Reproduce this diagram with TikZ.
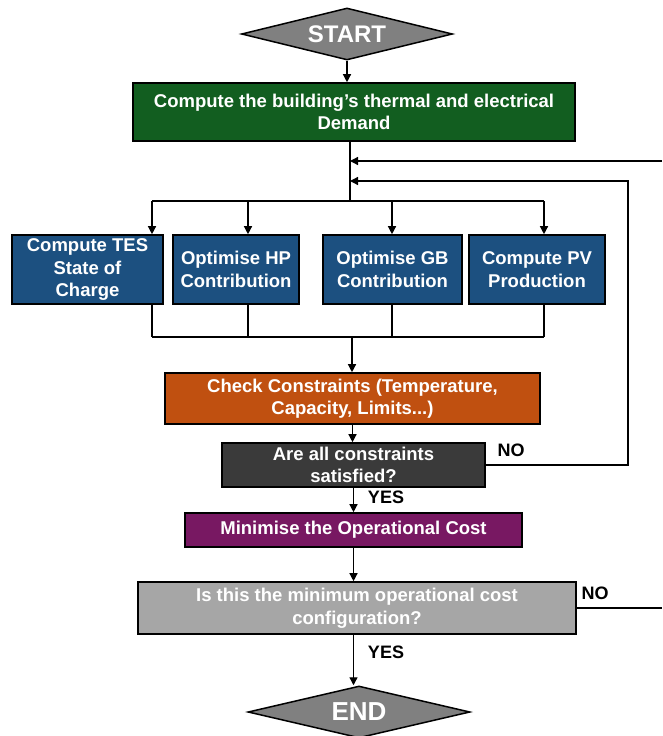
\documentclass[tikz,border=0pt]{standalone}
\usepackage{fontspec}
\setmainfont{Liberation Sans}
\usepackage{xcolor}
\usetikzlibrary{arrows.meta,shapes.geometric}

\definecolor{startgray}{RGB}{128,128,128}
\definecolor{demandgreen}{RGB}{18,94,32}
\definecolor{taskblue}{RGB}{28,80,128}
\definecolor{checkorange}{RGB}{192,80,16}
\definecolor{satgray}{RGB}{58,58,58}
\definecolor{costpurple}{RGB}{120,24,98}
\definecolor{bestgray}{RGB}{166,166,166}

\begin{document}
\begin{tikzpicture}[
  x=1pt, y=-1pt,
  font=\bfseries\fontsize{18.5}{22.5}\selectfont,
  terminal/.style={diamond, draw, line width=1.5pt, fill=startgray, text=white,
                   shape aspect=4, inner sep=0pt, font=\bfseries\fontsize{24}{26}\selectfont},
  procbox/.style={rectangle, draw, line width=1.6pt, text=white, align=center, inner sep=2pt},
  flow/.style={-{Triangle[width=8pt,length=8pt]}, line width=1.3pt},
  link/.style={line width=1.3pt},
  answer/.style={font=\bfseries\fontsize{18}{20}\selectfont},
]
\useasboundingbox (0,0) rectangle (662,736);

% Start and demand calculation
\node[terminal, minimum width=211pt, minimum height=52pt] (start) at (347,34) {START};
\node[procbox, fill=demandgreen, minimum width=442pt, minimum height=58pt] (demand) at (354,112)
  {Compute the building's thermal and electrical\\Demand};

% Four parallel sub-models
\node[procbox, fill=taskblue, minimum width=151pt, minimum height=69pt] (tes) at (87.5,269.5)
  {Compute TES\\State of\\Charge};
\node[procbox, fill=taskblue, minimum width=126pt, minimum height=69pt] (hp) at (236,269.5)
  {Optimise HP\\Contribution};
\node[procbox, fill=taskblue, minimum width=139pt, minimum height=69pt] (gb) at (392.5,269.5)
  {Optimise GB\\Contribution};
\node[procbox, fill=taskblue, minimum width=136pt, minimum height=69pt] (pv) at (537,269.5)
  {Compute PV\\Production};

% Checks and optimisation
\node[procbox, fill=checkorange, minimum width=375pt, minimum height=51pt] (check) at (352.5,398.5)
  {Check Constraints (Temperature,\\Capacity, Limits...)};
\node[procbox, fill=satgray, minimum width=263pt, minimum height=44pt] (sat) at (353.5,465)
  {Are all constraints\\satisfied?};
\node[procbox, fill=costpurple, minimum width=337pt, minimum height=34pt] (cost) at (353.5,530)
  {Minimise the Operational Cost};
\node[procbox, fill=bestgray, minimum width=438pt, minimum height=52pt] (best) at (357,608)
  {Is this the minimum operational cost\\configuration?};
\node[terminal, minimum width=222pt, minimum height=52pt, font=\bfseries\fontsize{26}{28}\selectfont]
  (end) at (359,712) {END};

% Split / merge points
\coordinate (split) at (350,201);
\coordinate (merge) at (352,337);
\coordinate (loopin) at (628,181);
\coordinate (loopout) at (662,608);
\coordinate (loopback) at (662,161);
\foreach \b/\x in {tes/152, hp/248, gb/392, pv/544} {
  \coordinate (top\b) at (\x,201);
  \coordinate (bot\b) at (\x,337);
}

% Main flow
\draw[flow] (start.south) -- (start.south |- demand.north);
\draw[link] (split |- demand.south) -- (split);
\draw[link] (toptes) -- (toppv);
\foreach \b in {tes,hp,gb,pv} {\draw[flow] (top\b) -- (top\b |- \b.north);}
\foreach \b in {tes,hp,gb,pv} {\draw[link] (bot\b |- \b.south) -- (bot\b);}
\draw[link] (bottes) -- (botpv);
\draw[flow] (merge) -- (merge |- check.north);
\draw[flow] (check.south) -- (check.south |- sat.north);
\draw[flow] (sat.south) -- (sat.south |- cost.north);
\draw[flow] (cost.south) -- (cost.south |- best.north);
\draw[flow] (best.south -| cost.south) -- (end.north -| cost.south);

% Feedback loops
\draw[flow] (sat.east) -| (loopin) -- (loopin -| split);
\draw[link] (best.east) -- (loopout);
\draw[flow] (loopback) -- (loopback -| split);

% Answers
\node[answer] (satno) at (511,450) {NO};
\node[answer] (satyes) at (386,497) {YES};
\node[answer] (bestno) at (595,593) {NO};
\node[answer] (bestyes) at (386,652) {YES};

\end{tikzpicture}
\end{document}
